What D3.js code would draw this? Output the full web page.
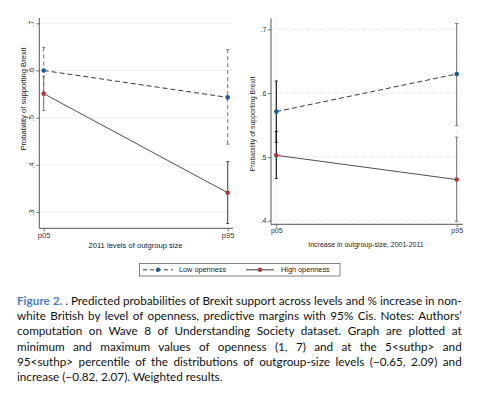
<!DOCTYPE html>
<html><head><meta charset="utf-8">
<script src="https://cdn.jsdelivr.net/npm/d3@7"></script>
<style>
html,body{margin:0;padding:0;background:#fff;}
svg{display:block;}
</style>
</head><body>
<svg id="chart" width="498" height="396"></svg>
<script>
// ---- data ----
const xCats = ["p05", "p95"];
const yTicksLeft = [0.3, 0.4, 0.5, 0.6, 0.7];
const yTicksRight = [0.4, 0.5, 0.6, 0.7];
const seriesNames = ["Low openness", "High openness"];

// Left panel: 2011 levels of outgroup size
const leftLow = [0.600, 0.543];
const leftLowLo = [0.551, 0.444];
const leftLowHi = [0.649, 0.644];
const leftHigh = [0.551, 0.341];
const leftHighLo = [0.515, 0.276];
const leftHighHi = [0.588, 0.407];

// Right panel: increase in outgroup size
const rightLow = [0.571, 0.630];
const rightLowLo = [0.523, 0.549];
const rightLowHi = [0.619, 0.709];
const rightHigh = [0.5025, 0.4645];
const rightHighLo = [0.466, 0.399];
const rightHighHi = [0.540, 0.531];

const captionLines = [
  ". Predicted probabilities of Brexit support across levels and % increase in non-",
  "white British by level of openness, predictive margins with 95% Cis. Notes: Authors’",
  "computation on Wave 8 of Understanding Society dataset. Graph are plotted at",
  "minimum and maximum values of openness (1, 7) and at the 5<suthp> and",
  "95<suthp> percentile of the distributions of outgroup-size levels (\u22120.65, 2.09) and",
  "increase (\u22120.82, 2.07). Weighted results."
];

// ---- drawing ----
const svg = d3.select("#chart");
svg.append("rect").attr("width", 498).attr("height", 396).attr("fill", "#fff");
const BLUE = "#1d5a8c", RED = "#b0363d";
const FONT = "'Liberation Sans', Arial, sans-serif";

function panel(cfg) {
  const g = svg.append("g");
  const x = d3.scalePoint().domain(xCats).range(cfg.xRange);
  const y = d3.scaleLinear().domain(cfg.yDomain).range(cfg.yRange);

  // gridlines
  g.selectAll(".hg").data(cfg.ticks).join("line")
    .attr("x1", cfg.axisX).attr("x2", cfg.gridRight)
    .attr("y1", d => y(d)).attr("y2", d => y(d))
    .attr("stroke", cfg.dashedGrid ? "#e2e2e2" : "#ececec")
    .attr("stroke-width", 0.8)
    .attr("stroke-dasharray", cfg.dashedGrid ? "4,3" : null);
  if (cfg.dashedGrid) {
    g.selectAll(".vg").data(xCats).join("line")
      .attr("x1", d => x(d)).attr("x2", d => x(d))
      .attr("y1", cfg.axisTop).attr("y2", cfg.axisBottom)
      .attr("stroke", "#e2e2e2").attr("stroke-width", 0.8)
      .attr("stroke-dasharray", "4,3");
  }

  // y axis
  const ya = g.append("g").attr("transform", `translate(${cfg.axisX},0)`)
    .call(d3.axisLeft(y).tickValues(cfg.ticks).tickSize(3)
      .tickFormat(d => d3.format(".1f")(d).replace(/^0/, "")));
  ya.select(".domain").remove();
  ya.selectAll(".tick line").attr("stroke", "#555").attr("stroke-width", 0.8);
  ya.selectAll("text").attr("font-family", FONT).attr("font-size", cfg.fs).attr("fill", "#333");
  if (cfg.rotateTicks) {
    ya.selectAll("text").attr("transform", "rotate(-90)")
      .attr("x", 0).attr("y", -5.5).attr("dy", 0).attr("text-anchor", "middle");
  } else {
    ya.selectAll("text").attr("x", -4.5);
  }
  g.append("line").attr("x1", cfg.axisX).attr("x2", cfg.axisX)
    .attr("y1", cfg.axisTop).attr("y2", cfg.axisBottom)
    .attr("stroke", "#555").attr("stroke-width", 1);

  // x axis
  const xa = g.append("g").attr("transform", `translate(0,${cfg.axisBottom})`)
    .call(d3.axisBottom(x).tickSize(3));
  xa.select(".domain").remove();
  xa.selectAll(".tick line").attr("stroke", "#555").attr("stroke-width", 0.8);
  xa.selectAll("text").attr("font-family", FONT).attr("font-size", cfg.fs)
    .attr("fill", "#333").attr("y", 4).attr("dy", "0.71em");
  g.append("line").attr("x1", cfg.axisX).attr("x2", cfg.gridRight + 1)
    .attr("y1", cfg.axisBottom).attr("y2", cfg.axisBottom)
    .attr("stroke", "#555").attr("stroke-width", 1);

  // titles
  g.append("text").attr("transform", `translate(${cfg.yTitleX},${cfg.yTitleY}) rotate(-90)`)
    .attr("text-anchor", "middle").attr("font-family", FONT).attr("font-size", cfg.titleFs)
    .attr("fill", "#222").text("Probability of supporting Brexit");
  g.append("text").attr("x", cfg.xTitleX).attr("y", cfg.xTitleY)
    .attr("text-anchor", "middle").attr("font-family", FONT).attr("font-size", cfg.titleFs)
    .attr("fill", "#222").text(cfg.xTitle);

  // error bars
  const bars = [];
  xCats.forEach((c, i) => {
    bars.push({c, lo: cfg.lowLo[i], hi: cfg.lowHi[i], style: cfg.ciStyles[0][i]});
    bars.push({c, lo: cfg.highLo[i], hi: cfg.highHi[i], style: cfg.ciStyles[1][i]});
  });
  bars.forEach(b => {
    const bx = x(b.c);
    g.append("line").attr("x1", bx).attr("x2", bx).attr("y1", y(b.lo)).attr("y2", y(b.hi))
      .attr("stroke", b.style.color).attr("stroke-width", b.style.w)
      .attr("stroke-dasharray", b.style.dash);
    [b.lo, b.hi].forEach(v => g.append("line")
      .attr("x1", bx - 1.6).attr("x2", bx + 1.6).attr("y1", y(v)).attr("y2", y(v))
      .attr("stroke", b.style.color).attr("stroke-width", 0.9));
  });

  // lines
  const line = d3.line().x((d, i) => x(xCats[i])).y(d => y(d));
  g.append("path").datum(cfg.low).attr("d", line).attr("fill", "none")
    .attr("stroke", "#3a3a3a").attr("stroke-width", 1).attr("stroke-dasharray", "5,3");
  g.append("path").datum(cfg.high).attr("d", line).attr("fill", "none")
    .attr("stroke", "#3a3a3a").attr("stroke-width", 0.9);

  // markers
  g.selectAll(".ml").data(cfg.low).join("circle")
    .attr("cx", (d, i) => x(xCats[i])).attr("cy", d => y(d)).attr("r", 2.3).attr("fill", BLUE);
  g.selectAll(".mh").data(cfg.high).join("circle")
    .attr("cx", (d, i) => x(xCats[i])).attr("cy", d => y(d)).attr("r", 2.3).attr("fill", RED);
}

const dashedGrey = {color: "#6e6e6e", w: 1, dash: "4,3"};
const solidGrey = {color: "#6e6e6e", w: 1, dash: null};
const solidDark = {color: "#3c3c3c", w: 1, dash: null};
const solidBlack = {color: "#1a1a1a", w: 1.2, dash: null};

panel({
  xRange: [43.7, 227.7], yDomain: [0.3, 0.7], yRange: [212.1, 23.3],
  ticks: yTicksLeft, axisX: 39.3, axisTop: 18, axisBottom: 228.3, gridRight: 232,
  dashedGrid: false, rotateTicks: true, fs: 7.6, titleFs: 7.6,
  yTitleX: 25.5, yTitleY: 99, xTitleX: 135.5, xTitleY: 247.5,
  xTitle: "2011 levels of outgroup size",
  low: leftLow, lowLo: leftLowLo, lowHi: leftLowHi,
  high: leftHigh, highLo: leftHighLo, highHi: leftHighHi,
  ciStyles: [[dashedGrey, dashedGrey], [solidGrey, solidDark]]
});

panel({
  xRange: [276.3, 456.7], yDomain: [0.4, 0.7], yRange: [220.7, 29.3],
  ticks: yTicksRight, axisX: 271, axisTop: 18.3, axisBottom: 224.3, gridRight: 462,
  dashedGrid: true, rotateTicks: false, fs: 7, titleFs: 7,
  yTitleX: 254.5, yTitleY: 124, xTitleX: 366, xTitleY: 246.5,
  xTitle: "Increase in outgroup-size, 2001-2011",
  low: rightLow, lowLo: rightLowLo, lowHi: rightLowHi,
  high: rightHigh, highLo: rightHighLo, highHi: rightHighHi,
  ciStyles: [[solidBlack, solidGrey], [solidBlack, solidGrey]]
});

// legend
const lg = svg.append("g");
lg.append("rect").attr("x", 139.5).attr("y", 263.5).attr("width", 200.5).attr("height", 12.5)
  .attr("fill", "#fff").attr("stroke", "#666").attr("stroke-width", 0.8);
const legendItems = [
  {name: seriesNames[0], color: BLUE, dash: "4,3", x0: 143, x1: 173, tx: 179},
  {name: seriesNames[1], color: RED, dash: null, x0: 246, x1: 274, tx: 281}
];
legendItems.forEach(it => {
  lg.append("line").attr("x1", it.x0).attr("x2", it.x1).attr("y1", 269.8).attr("y2", 269.8)
    .attr("stroke", "#3a3a3a").attr("stroke-width", 1).attr("stroke-dasharray", it.dash);
  lg.append("circle").attr("cx", (it.x0 + it.x1) / 2).attr("cy", 269.8).attr("r", 2.2).attr("fill", it.color);
  lg.append("text").attr("x", it.tx).attr("y", 272.4).attr("font-family", FONT)
    .attr("font-size", 7.3).attr("fill", "#222").text(it.name);
});

// caption
const CAPF = "Lato, 'Open Sans', sans-serif";
const capLeft = 17, capRight = 461.7, baseY = 304.8, lh = 15.3;
let capFs = 12.5;
// fit font size so the first (tightest) line has natural spacing
{
  const probe = svg.append("text").attr("font-family", CAPF).attr("font-size", capFs)
    .text("Figure 2. " + captionLines[0]);
  const w0 = probe.node().getComputedTextLength();
  probe.remove();
  capFs = Math.min(13, capFs * (capRight - capLeft) / w0);
}
captionLines.forEach((t, i) => {
  const txt = svg.append("text").attr("x", capLeft).attr("y", baseY + i * lh)
    .attr("font-family", CAPF).attr("font-size", capFs).attr("fill", "#111");
  if (i === 0) {
    txt.append("tspan").attr("fill", "#4a82c3").attr("font-weight", 700).text("Figure 2. ");
  }
  txt.append("tspan").text(t);
  if (i < captionLines.length - 1) {
    const w = txt.node().getComputedTextLength();
    const full = (i === 0 ? "Figure 2. " : "") + t;
    const nSp = (full.match(/ /g) || []).length;
    if (nSp > 0) txt.attr("word-spacing", (capRight - capLeft - w) / nSp);
  }
});
</script>
</body></html>
